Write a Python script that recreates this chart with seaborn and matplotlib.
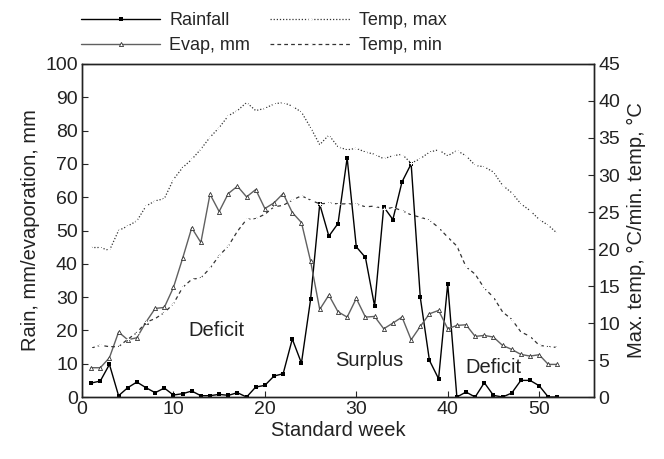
import numpy as np
import pandas as pd
import matplotlib
matplotlib.use("Agg")
import matplotlib.pyplot as plt
import seaborn as sns

sns.set_style("ticks")
plt.rcParams['font.family'] = ['Liberation Sans', 'DejaVu Sans']

# standard weeks 1..52
week = list(range(1, 53))

rainfall = [4.2, 4.8, 9.8, 0.4, 2.8, 4.5, 2.8, 1.3, 2.7, 0.6,
            1.0, 1.8, 0.4, 0.4, 0.8, 0.5, 1.3, 0.0, 3.0, 3.5,
            6.3, 7.0, 17.4, 10.2, 29.3, 57.9, 48.3, 52.1, 71.8, 45.1,
            41.9, 27.3, 57.1, 53.3, 64.6, 70.0, 29.9, 11.0, 5.5, 34.0,
            0.0, 1.5, 0.0, 4.3, 0.5, 0.0, 1.2, 5.0, 5.0, 3.4,
            0.0, 0.0]
evap = [8.8, 8.8, 11.8, 19.5, 17.2, 17.8, 22.5, 26.6, 26.9, 32.9,
        41.6, 50.8, 46.4, 60.9, 55.7, 61.1, 63.3, 60.1, 62.3, 56.6,
        58.3, 61.1, 55.4, 52.4, 40.8, 26.3, 30.6, 25.6, 24.0, 29.6,
        24.0, 24.2, 20.5, 22.2, 24.0, 17.2, 21.2, 25.0, 26.0, 20.5,
        21.5, 21.7, 18.2, 18.5, 18.0, 15.5, 14.3, 12.8, 12.3, 12.7,
        9.8, 9.8]
tmax = [20.2, 20.2, 19.8, 22.5, 23.1, 23.8, 25.8, 26.5, 26.8, 29.4,
        31.0, 32.1, 33.5, 35.1, 36.4, 38.0, 38.7, 39.8, 38.7, 39.0,
        39.6, 39.8, 39.3, 38.5, 36.4, 34.1, 35.4, 33.8, 33.4, 33.6,
        33.1, 32.8, 32.2, 32.6, 32.8, 31.6, 32.2, 33.1, 33.4, 32.6,
        33.3, 32.6, 31.3, 31.1, 30.4, 28.6, 27.6, 26.1, 25.2, 24.0,
        23.2, 22.1]
tmin = [6.6, 7.0, 6.8, 6.8, 7.8, 8.7, 10.1, 10.6, 11.4, 12.6,
        14.8, 15.9, 16.1, 17.4, 19.1, 20.4, 22.4, 24.0, 24.1, 24.7,
        25.7, 25.9, 26.6, 27.2, 26.6, 26.1, 26.2, 26.1, 26.1, 26.1,
        25.7, 25.8, 25.4, 25.6, 25.2, 24.6, 24.3, 23.9, 22.9, 21.6,
        20.4, 17.6, 16.6, 14.7, 13.5, 11.5, 10.5, 8.8, 8.2, 7.0,
        6.8, 6.7]

df = pd.DataFrame({"week": week, "rain": rainfall, "evap": evap,
                   "tmax": tmax, "tmin": tmin})

fig = plt.figure(figsize=(6.64, 4.59), dpi=100)
ax1 = fig.add_axes([0.1235, 0.135, 0.7711, 0.7256])
ax2 = ax1.twinx()

sns.lineplot(data=df, x="week", y="rain", ax=ax1, color="black", lw=1,
             marker="s", markersize=2.2, markeredgewidth=0, label="Rainfall", legend=False)
sns.lineplot(data=df, x="week", y="evap", ax=ax1, color="#606060", lw=1,
             marker="^", markersize=3, markerfacecolor="white",
             markeredgecolor="#333333", markeredgewidth=0.6, label="Evap, mm", legend=False)
sns.lineplot(data=df, x="week", y="tmax", ax=ax2, color="#333333", lw=0.9,
             linestyle=(0, (1, 1.5)), marker="+", markersize=3, markeredgewidth=0.8,
             label="Temp, max", legend=False)
sns.lineplot(data=df, x="week", y="tmin", ax=ax2, color="#333333", lw=0.9,
             linestyle=(0, (3, 2.5)), marker="+", markersize=3, markeredgewidth=0.8,
             label="Temp, min", legend=False)

ax1.set_xlim(0, 56)
ax1.set_ylim(0, 100)
ax2.set_ylim(0, 45)
ax1.set_xticks([0, 10, 20, 30, 40, 50])
ax1.set_yticks(np.arange(0, 101, 10))
ax2.set_yticks(np.arange(0, 46, 5))

ax1.set_xlabel("Standard week", fontsize=14.5, color="#222222", labelpad=2)
ax1.set_ylabel("Rain, mm/evaporation, mm", fontsize=14.5, color="#222222", labelpad=4)
ax2.set_ylabel("Max. temp, \u00b0C/min. temp, \u00b0C", fontsize=14.5, color="#222222", labelpad=5)
ax1.tick_params(axis="both", direction="in", labelsize=14, length=4, pad=3,
                labelcolor="#222222")
ax2.tick_params(axis="y", direction="in", labelsize=14, length=4, pad=3,
                labelcolor="#222222")
for a in (ax1, ax2):
    for s in a.spines.values():
        s.set_linewidth(1)
        s.set_color("#222222")

ax1.text(14.7, 20, "Deficit", fontsize=14.5, ha="center", va="center", color="#222222")
ax1.text(31.4, 11, "Surplus", fontsize=14.5, ha="center", va="center", color="#222222")
ax1.text(45, 9, "Deficit", fontsize=14.5, ha="center", va="center", color="#222222")

h1, l1 = ax1.get_legend_handles_labels()
h2, l2 = ax2.get_legend_handles_labels()
handles = [h1[0], h1[1], h2[0], h2[1]]
labels = [l1[0], l1[1], l2[0], l2[1]]
fig.legend(handles, labels, ncol=2, frameon=False, fontsize=13,
           loc="lower left", bbox_to_anchor=(0.122, 1 - 54 / 459),
           borderpad=0, borderaxespad=0, numpoints=1,
           handlelength=4.4, handletextpad=0.5, columnspacing=1.1, labelspacing=0.45)

fig.savefig("out.png", dpi=100)
